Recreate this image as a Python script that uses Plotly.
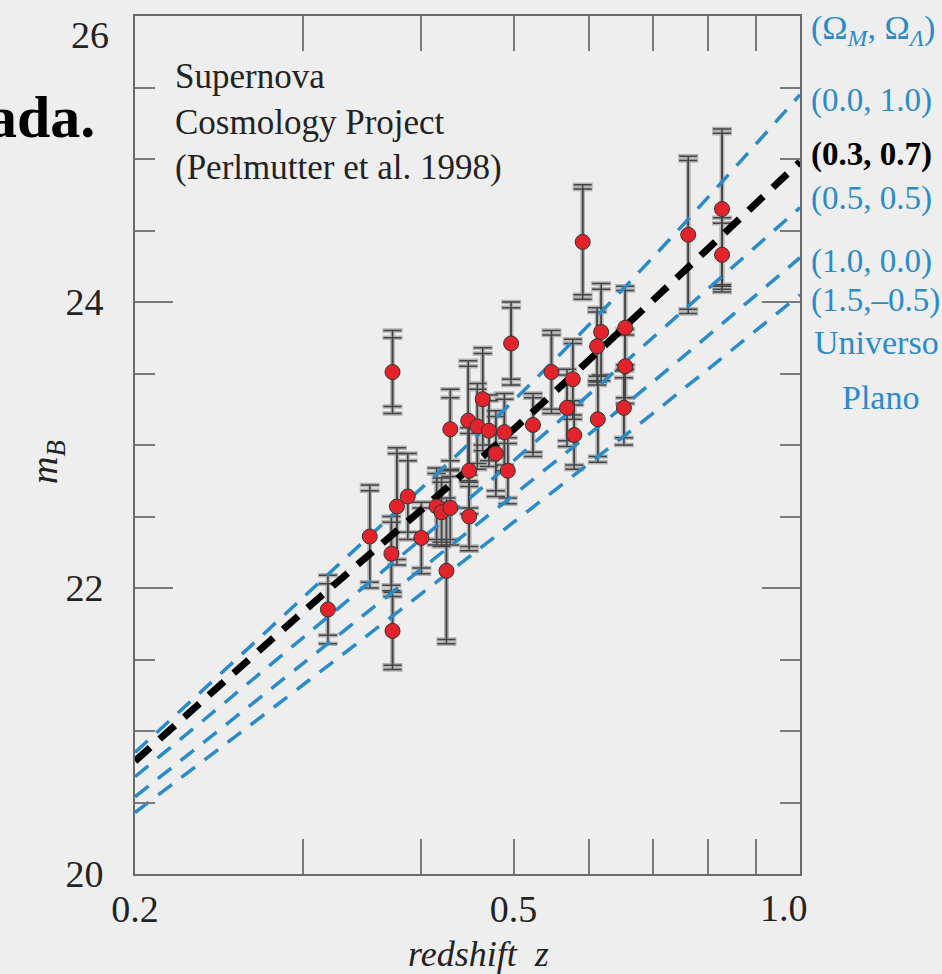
import numpy as np
import plotly.graph_objects as go

# ---------------- data ----------------
z_sn = [0.319, 0.353, 0.373, 0.372, 0.373, 0.377, 0.387, 0.400, 0.415, 0.420,
        0.429, 0.425, 0.429, 0.449, 0.449, 0.448, 0.458, 0.464, 0.471, 0.489,
        0.479, 0.493, 0.497, 0.524, 0.548, 0.577, 0.569, 0.579, 0.613, 0.591,
        0.618, 0.612, 0.655, 0.655, 0.653, 0.763, 0.828, 0.828]
m_sn = [21.85, 22.36, 23.51, 22.24, 21.70, 22.57, 22.64, 22.35, 22.57, 22.53,
        22.56, 22.12, 23.11, 22.82, 22.50, 23.17, 23.13, 23.32, 23.10, 23.09,
        22.94, 22.82, 23.71, 23.14, 23.51, 23.46, 23.26, 23.07, 23.18, 24.42,
        23.79, 23.69, 23.82, 23.55, 23.26, 24.47, 24.65, 24.33]
err_total = [0.24, 0.36, 0.29, 0.26, 0.27, 0.41, 0.30, 0.25, 0.27, 0.24,
             0.26, 0.51, 0.28, 0.30, 0.24, 0.42, 0.30, 0.36, 0.25, 0.27,
             0.30, 0.23, 0.29, 0.22, 0.29, 0.28, 0.27, 0.24, 0.30, 0.40,
             0.34, 0.27, 0.29, 0.26, 0.26, 0.55, 0.56, 0.26]
err_stat = [0.18, 0.32, 0.24, 0.22, 0.24, 0.37, 0.25, 0.21, 0.23, 0.21,
            0.22, 0.48, 0.22, 0.26, 0.21, 0.38, 0.26, 0.32, 0.21, 0.23,
            0.26, 0.19, 0.25, 0.19, 0.26, 0.25, 0.23, 0.21, 0.26, 0.37,
            0.30, 0.24, 0.26, 0.22, 0.21, 0.52, 0.53, 0.22]

model_z = [0.2, 0.3, 0.5, 0.7, 1.0]
m_model_00_10 = [20.85, 21.93, 23.31, 24.31, 25.45]
m_model_03_07 = [20.79, 21.83, 23.11, 24.01, 24.98]
m_model_05_05 = [20.68, 21.65, 22.89, 23.75, 24.66]
m_model_10_00 = [20.54, 21.47, 22.65, 23.44, 24.31]
m_model_15_m05 = [20.43, 21.32, 22.46, 23.22, 24.05]

x_tick_vals = [0.2, 0.5]
x_tick_text = ["0.2", "0.5"]
x_minor_vals = [0.3, 0.4, 0.6, 0.7, 0.8, 0.9]
y_tick_vals = [20, 22, 24]
y_tick_text = ["20", "22", "24"]

legend_labels = ["(0.0, 1.0)", "<b>(0.3, 0.7)</b>", "(0.5, 0.5)", "(1.0, 0.0)", "(1.5,\u20130.5)"]

# ---------------- styling / layout ----------------
W, H = 942, 974
L, R, T, B = 135, 800, 16, 874
BLUE = "#2a8bca"
SERIF = "Liberation Serif"


def px(x):
    return (x - L) / (R - L)


def py(y):
    return (B - y) / (B - T)


fig = go.Figure()

# error bars: light halo then dark core, total and statistical caps
for arr, col, th, wd in [(err_total, "#b4b4b4", 4.5, 10), (err_stat, "#b4b4b4", 4.5, 10),
                         (err_total, "#444444", 1.5, 9), (err_stat, "#444444", 1.5, 9)]:
    fig.add_trace(go.Scatter(
        x=z_sn, y=m_sn, mode="markers",
        marker=dict(size=2, color="rgba(0,0,0,0)"),
        error_y=dict(type="data", array=arr, color=col, thickness=th, width=wd),
        hoverinfo="skip", showlegend=False))

# model curves
for ys in [m_model_00_10, m_model_05_05, m_model_10_00, m_model_15_m05]:
    fig.add_trace(go.Scatter(
        x=model_z, y=ys, mode="lines", line_shape="spline",
        line=dict(color=BLUE, width=3.5, dash="17px,12px"),
        showlegend=False, hoverinfo="skip"))
fig.add_trace(go.Scatter(
    x=model_z, y=m_model_03_07, mode="lines", line_shape="spline",
    line=dict(color="black", width=7, dash="20px,13px"),
    showlegend=False, hoverinfo="skip"))

# supernovae
fig.add_trace(go.Scatter(
    x=z_sn, y=m_sn, mode="markers",
    marker=dict(size=15, color="#e3232b", line=dict(color="#333333", width=1)),
    showlegend=False))

annotations = []


def ann(text, X, Y, size, color="#222222", xanchor="left", yanchor="middle", **kw):
    annotations.append(dict(text=text, x=px(X), y=py(Y), xref="paper", yref="paper",
                            showarrow=False, xanchor=xanchor, yanchor=yanchor,
                            font=dict(family=SERIF, size=size, color=color), **kw))


ann("<b>ada.</b>", 97, 117, 60, color="black", xanchor="right")
ann("Supernova<br>Cosmology Project<br>(Perlmutter et al. 1998)", 173, 122, 35, align="left")
ann("26", 111, 35, 38, xanchor="right")
ann("1.0", 784, 908, 38, xanchor="center")
ann("<i>m<sub>B</sub></i>", 47, 462, 38, xanchor="center", textangle=-90)
ann("<i>redshift\u00a0\u00a0z</i>", 478, 954, 36, xanchor="center")

ann("(\u03a9<sub><i>M</i></sub>,\u00a0\u03a9<sub><i>\u039b</i></sub>)", 809, 30, 34, color=BLUE)
legend_y = [100, 154, 198, 261, 300]
legend_colors = [BLUE, "black", BLUE, BLUE, BLUE]
for lab, yy, cc in zip(legend_labels, legend_y, legend_colors):
    ann(lab, 809, yy, 33, color=cc)
ann("Universo", 876, 342, 34, color=BLUE, xanchor="center")
ann("Plano", 880, 397, 34, color=BLUE, xanchor="center")

axis_common = dict(showgrid=False, zeroline=False, showline=True, linecolor="#6a6a6a",
                   linewidth=2, mirror="ticks", ticks="inside", tickcolor="#7a7a7a",
                   tickwidth=2, tickfont=dict(family=SERIF, size=38, color="#222222"))

fig.update_layout(
    width=W, height=H,
    margin=dict(l=L, r=W - R, t=T, b=H - B, pad=0),
    paper_bgcolor="#eeeeee", plot_bgcolor="#eeeeee",
    xaxis=dict(type="log", range=[np.log10(0.2), 0], tickmode="array",
               tickvals=x_tick_vals, ticktext=x_tick_text, ticklen=35,
               ticklabelstandoff=0,
               minor=dict(tickmode="array", tickvals=x_minor_vals, ticklen=35,
                          ticks="inside", tickcolor="#7a7a7a", tickwidth=2,
                          showgrid=False),
               **axis_common),
    yaxis=dict(range=[20, 26], tickmode="array", tickvals=y_tick_vals,
               ticktext=y_tick_text, ticklen=38, ticklabelstandoff=22,
               minor=dict(dtick=0.5, tick0=20, ticklen=20, ticks="inside",
                          tickcolor="#7a7a7a", tickwidth=2, showgrid=False),
               **axis_common),
    annotations=annotations,
    showlegend=False,
)

fig.write_html("out.html")
